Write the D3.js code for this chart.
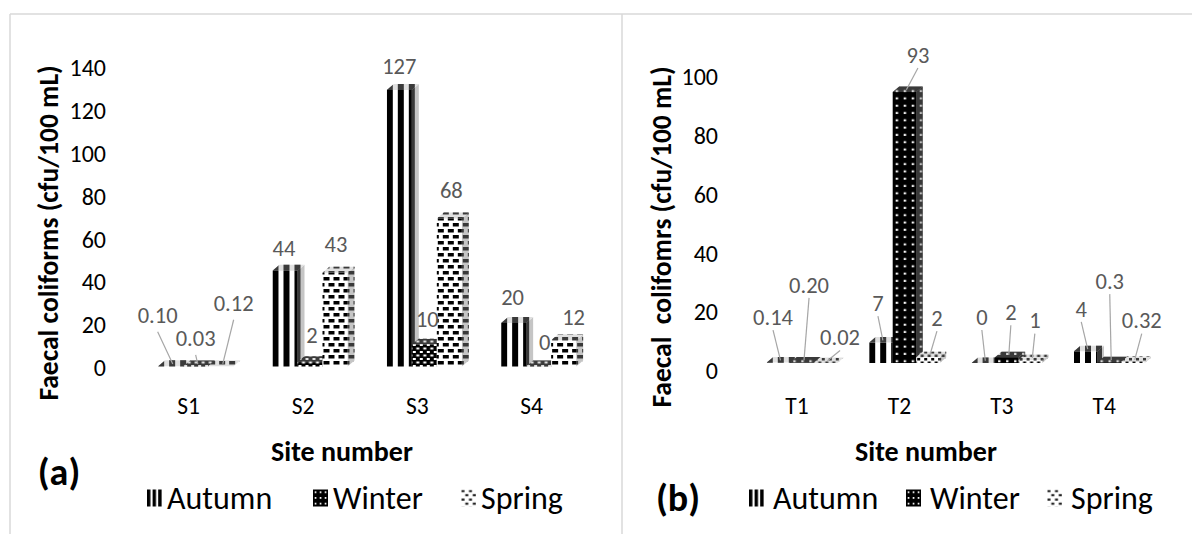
<!DOCTYPE html>
<html>
<head>
<meta charset="utf-8">
<script src="https://cdn.jsdelivr.net/npm/d3@7"></script>
<style>
  html, body { margin: 0; padding: 0; background: #fff; }
  svg { display: block; }
</style>
</head>
<body>
<svg id="chart" width="1192" height="534"></svg>
<script>
// Faecal coliform counts per site and season, two sampling areas.
const seasons = ["Autumn", "Winter", "Spring"];

const sitesA = ["S1", "S2", "S3", "S4"];
const autumnA = [0.10, 44, 127, 20];
const winterA = [0.03, 2, 10, 0];
const springA = [0.12, 43, 68, 12];
const decimalsA = [[2, 0, 0, 0], [2, 0, 0, 0], [2, 0, 0, 0]];
const ticksA = [0, 20, 40, 60, 80, 100, 120, 140];

const sitesB = ["T1", "T2", "T3", "T4"];
const autumnB = [0.14, 7, 0, 4];
const winterB = [0.20, 93, 2, 0.3];
const springB = [0.02, 2, 1, 0.32];
const decimalsB = [[2, 0, 0, 0], [2, 0, 0, 1], [2, 0, 0, 2]];
const ticksB = [0, 20, 40, 60, 80, 100];

const FONT = "Carlito, Calibri, Lato, sans-serif";

// Label offsets from their default spot above each bar, per season then site.
const nudgeA = [
  [[-15, -26], [-3, 3], [-2, 2], [-3, 0]],
  [[-2, -3], [0, -2], [1, 0], [4, 1]],
  [[11, -38], [-1, -3], [0, -3], [8, 2]]
];
const leaderA = [[1, 0, 0, 0], [1, 0, 0, 0], [1, 0, 0, 0]];
const nudgeB = [
  [[-7.5, -20], [-5, -14], [-3.5, -20.5], [-6.5, -17]],
  [[5, -52], [11.5, -11.5], [2, -19.5], [-1.5, -55.5]],
  [[12.5, 0], [7, -13.5], [2.5, -14], [7, -16]]
];
const leaderB = [[1, 1, 1, 1], [1, 1, 1, 1], [1, 1, 1, 1]];

const svg = d3.select("#chart");
const defs = svg.append("defs");

// ---- fill patterns -------------------------------------------------------
function tile(id, w, h, bg, fg, rects) {
  const p = defs.append("pattern")
    .attr("id", id)
    .attr("patternUnits", "userSpaceOnUse")
    .attr("width", w).attr("height", h);
  p.append("rect").attr("width", w).attr("height", h).attr("fill", bg);
  rects.forEach(r => p.append("rect")
    .attr("x", r[0]).attr("y", r[1]).attr("width", r[2]).attr("height", r[3])
    .attr("fill", fg));
}
// bar fills
tile("a-Autumn", 11, 10, "#fff", "#000", [[0, 0, 6, 10]]);
tile("a-Winter", 7, 7, "#000", "#fff", [[1, 1, 3, 2], [4.5, 4.5, 3, 2], [-2.5, 4.5, 3, 2]]);
tile("a-Spring", 10, 12, "#fff", "#000", [[1, 1, 6, 3.5], [6, 7, 6, 3.5], [-4, 7, 6, 3.5]]);
tile("b-Autumn", 11, 10, "#fff", "#000", [[0, 0, 6, 10]]);
tile("b-Winter", 8, 7.3, "#000", "#fff", [[3, 2.5, 2.4, 2]]);
tile("b-Spring", 7, 7, "#fff", "#000", [[1, 1, 3, 2.5], [4.5, 4.5, 3, 2.5], [-2.5, 4.5, 3, 2.5]]);
// legend swatches
tile("leg-Autumn", 5.6, 17, "#fff", "#000", [[0, 0, 3.4, 17]]);
tile("leg-Winter", 5, 5.67, "#000", "#fff", [[1.7, 1.9, 1.7, 1.7]]);
tile("leg-Spring", 7.5, 8.5, "#fff", "#222", [[0.5, 0.5, 3, 2.2], [4.3, 4.6, 3, 2.2]]);

// ---- frame ---------------------------------------------------------------
const frame = svg.append("g").attr("stroke", "#d9d9d9").attr("stroke-width", 1.5);
frame.append("line").attr("x1", 10).attr("y1", 14).attr("x2", 1192).attr("y2", 14);
frame.append("line").attr("x1", 10).attr("y1", 14).attr("x2", 10).attr("y2", 534);
frame.append("line").attr("x1", 622).attr("y1", 14).attr("x2", 622).attr("y2", 534);

// ---- one 3-D clustered column panel ---------------------------------------
function drawPanel(cfg) {
  const g = svg.append("g");
  const x = d3.scaleBand().domain(cfg.sites).range(cfg.xRange);
  const inner = d3.scaleBand().domain(seasons).range([0, cfg.bw * 3]);
  // front plane of the bars and the value axis on the back wall
  const yBar = d3.scaleLinear().domain([0, cfg.max]).range(cfg.barRange);
  const yAxis = d3.scaleLinear().domain([0, cfg.max]).range(cfg.axisRange);
  const { bw, dx, dy } = cfg;

  // value axis labels
  const ax = g.append("g")
    .attr("transform", `translate(${cfg.tickX},0)`)
    .call(d3.axisLeft(yAxis).tickValues(cfg.ticks).tickSize(0).tickPadding(0));
  ax.attr("font-family", null).attr("font-size", null);
  ax.select(".domain").remove();
  ax.selectAll("text")
    .attr("font-family", FONT).attr("font-size", 24).attr("fill", "#000");

  // category labels
  const cx = g.append("g")
    .attr("transform", `translate(0,${cfg.catY})`)
    .call(d3.axisBottom(x).tickSize(0).tickPadding(0));
  cx.attr("font-family", null).attr("font-size", null);
  cx.select(".domain").remove();
  cx.selectAll("text")
    .attr("y", 0).attr("dy", "0.35em")
    .attr("font-family", FONT).attr("font-size", 23.5).attr("fill", "#000");

  // bars, painted left to right so later fronts hide earlier side faces
  const bars = [];
  cfg.sites.forEach((site, i) => seasons.forEach((season, s) => {
    const left = x(site) + x.bandwidth() / 2 + cfg.shift - 1.5 * bw + inner(season);
    bars.push({ site, season, s, i, v: cfg.values[s][i], left });
  }));
  const base = yBar(0);

  const bar = g.append("g").selectAll("g").data(bars).join("g")
    .attr("transform", d => `translate(${d.left},0)`);

  bar.each(function (d) {
    const el = d3.select(this);
    const top = yBar(d.v);
    const fill = `url(#${cfg.id}-${d.season})`;
    const side = `${bw},${top} ${bw + dx},${top + dy} ${bw + dx},${base + dy} ${bw},${base}`;
    const cap = `0,${top} ${dx},${top + dy} ${bw + dx},${top + dy} ${bw},${top}`;
    el.append("polygon").attr("points", side).attr("fill", fill);
    el.append("polygon").attr("points", side).attr("fill", "#7f7f7f").attr("opacity", 0.45);
    el.append("rect").attr("x", 0).attr("y", top).attr("width", bw)
      .attr("height", Math.max(0, base - top)).attr("fill", fill);
    el.append("polygon").attr("points", cap).attr("fill", fill);
    el.append("polygon").attr("points", cap).attr("fill", "#a6a6a6").attr("opacity", 0.35);
  });

  // data labels with leader lines
  const labels = bars.map(d => {
    const top = yBar(d.v);
    const [nx, ny] = cfg.nudge[d.s][d.i];
    return {
      text: d3.format(`.${cfg.decimals[d.s][d.i]}f`)(d.v),
      lx: d.left + bw / 2 + 2 + nx,
      ly: top - 25.5 + ny,
      ax: d.left + bw / 2 + dx * 0.3,
      ay: top + dy * 0.4,
      leader: cfg.leader[d.s][d.i]
    };
  });
  g.append("g").selectAll("line").data(labels.filter(d => d.leader)).join("line")
    .attr("x1", d => d.lx).attr("y1", d => d.ly + cfg.leaderGap)
    .attr("x2", d => d.ax).attr("y2", d => d.ay)
    .attr("stroke", "#a6a6a6").attr("stroke-width", 1.2);
  g.append("g").selectAll("text").data(labels).join("text")
    .attr("x", d => d.lx).attr("y", d => d.ly).attr("dy", "0.35em")
    .attr("text-anchor", "middle")
    .attr("font-family", FONT).attr("font-size", 22.5).attr("fill", "#595959")
    .text(d => d.text);

  // axis titles
  g.append("text")
    .attr("transform", `translate(${cfg.titleX},${cfg.titleY}) rotate(-90)`)
    .attr("dy", "0.35em").attr("text-anchor", "middle")
    .style("white-space", "pre")
    .attr("font-family", FONT).attr("font-size", 27.5).attr("font-weight", "bold")
    .text(cfg.yTitle);
  g.append("text")
    .attr("x", cfg.siteX).attr("y", cfg.siteY).attr("dy", "0.35em")
    .attr("text-anchor", "middle")
    .attr("font-family", FONT).attr("font-size", 28).attr("font-weight", "bold")
    .text("Site number");
  g.append("text")
    .attr("x", cfg.tagX).attr("y", cfg.tagY).attr("dy", "0.35em")
    .attr("text-anchor", "middle")
    .attr("font-family", FONT).attr("font-size", 38).attr("font-weight", "bold")
    .text(cfg.tag);

  // legend
  const item = g.append("g").selectAll("g").data(seasons).join("g")
    .attr("transform", (d, k) => `translate(${cfg.legendX[k]},${cfg.legendY - 8.5})`);
  item.append("rect").attr("width", 15).attr("height", 17)
    .attr("fill", d => `url(#leg-${d})`);
  item.append("text").attr("x", cfg.legendGap).attr("y", 8.5).attr("dy", "0.35em")
    .attr("font-family", FONT).attr("font-size", 32).attr("fill", "#000")
    .text(d => d);
}

drawPanel({
  id: "a", tag: "(a)", sites: sitesA, values: [autumnA, winterA, springA],
  decimals: decimalsA, ticks: ticksA, max: 140,
  nudge: nudgeA, leader: leaderA, leaderGap: 17,
  xRange: [131.5, 588.8], bw: 25, shift: 7, dx: 7, dy: -6,
  barRange: [366.5, 61.6], axisRange: [368, 68],
  tickX: 106, catY: 406,
  yTitle: "Faecal coliforms (cfu/100 mL)", titleX: 48, titleY: 233,
  siteX: 342, siteY: 451, tagX: 59, tagY: 472,
  legendY: 498, legendX: [147, 313, 461], legendGap: 20
});

drawPanel({
  id: "b", tag: "(b)", sites: sitesB, values: [autumnB, winterB, springB],
  decimals: decimalsB, ticks: ticksB, max: 100,
  nudge: nudgeB, leader: leaderB, leaderGap: 13,
  xRange: [745.85, 1155.45], bw: 23.5, shift: 5, dx: 6.5, dy: -5.5,
  barRange: [363, 71.6], axisRange: [371, 77],
  tickX: 718, catY: 406,
  yTitle: "Faecal  colifomrs (cfu/100 mL)", titleX: 661, titleY: 237,
  siteX: 926, siteY: 451, tagX: 678, tagY: 498,
  legendY: 498, legendX: [749, 906, 1047], legendGap: 24
});
</script>
</body>
</html>
